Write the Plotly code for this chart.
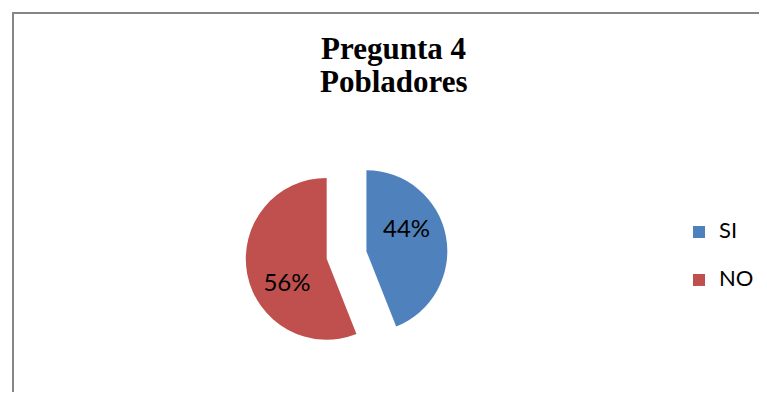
import plotly.graph_objects as go

labels = ["SI", "NO"]
values = [44, 56]
colors = ["#4F81BD", "#C0504D"]
title_lines = ["Pregunta 4", "Pobladores"]

# The page body has an 8px margin, so the figure is sized to fit the window
W, H = 751, 384
OFF = 8  # offset of the figure inside the window


def px_x(x):
    return (x - OFF) / W


def px_y(y):
    return 1 - (y - OFF) / H


# legend entries: text drawn at 22px inside a taller legend line to get wide spacing
legend_labels = ["<span style='font-size:22px;baseline-shift:7px'>%s</span>" % l for l in labels]

fig = go.Figure(go.Pie(
    labels=legend_labels,
    values=values,
    sort=False,
    direction="clockwise",
    rotation=0,
    pull=[0.25, 0.25],
    marker=dict(colors=colors, line=dict(width=0)),
    texttemplate=["%{percent:.0%}<br> ", " <br>%{percent:.0%}"],
    textposition="inside",
    insidetextorientation="horizontal",
    textfont=dict(family="Lato", size=24, color="black"),
    domain=dict(x=[px_x(245.75), px_x(448.25)], y=[px_y(356.25), px_y(153.75)]),
    customdata=labels,
    hovertemplate="%{customdata}: %{percent}<extra></extra>",
))

fig.add_annotation(text="<b>%s</b>" % title_lines[0], x=px_x(394.5), y=px_y(48.5),
                   xref="paper", yref="paper", showarrow=False, xanchor="center", yanchor="middle",
                   font=dict(family="Liberation Serif", size=31, color="black"))
fig.add_annotation(text="<b>%s</b>" % title_lines[1], x=px_x(394.5), y=px_y(81.5),
                   xref="paper", yref="paper", showarrow=False, xanchor="center", yanchor="middle",
                   font=dict(family="Liberation Serif", size=31, color="black"))

fig.add_shape(type="rect", xref="paper", yref="paper",
              x0=px_x(13), x1=1.05, y0=-0.05, y1=px_y(13),
              line=dict(color="#868686", width=2), fillcolor="rgba(0,0,0,0)")

fig.update_layout(
    width=W, height=H,
    margin=dict(l=0, r=0, t=0, b=0),
    paper_bgcolor="white",
    plot_bgcolor="white",
    showlegend=True,
    legend=dict(x=px_x(680), y=px_y(256), xanchor="left", yanchor="middle",
                font=dict(family="Lato", size=34.6, color="black"),
                bgcolor="rgba(0,0,0,0)"),
)

fig.write_html("out.html")
